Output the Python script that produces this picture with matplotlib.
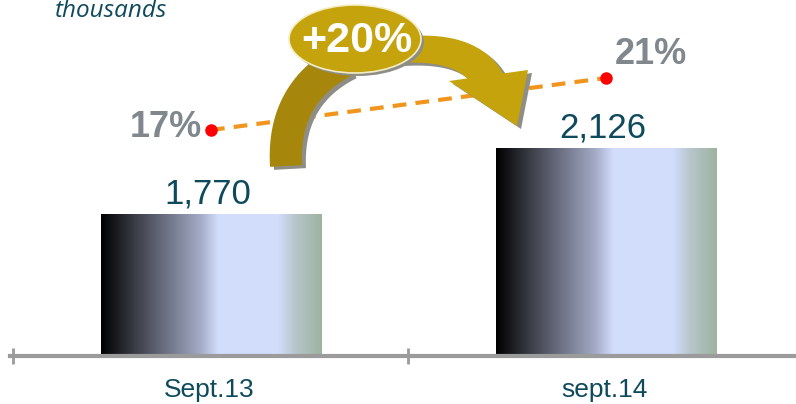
import numpy as np
import matplotlib
matplotlib.use('Agg')
import matplotlib.pyplot as plt
from matplotlib.colors import LinearSegmentedColormap
from matplotlib.patches import Ellipse, Polygon

# ---- data ----
categories = ['Sept.13', 'sept.14']
values = [1770, 2126]
value_labels = ['1,770', '2,126']
shares = [17, 21]
share_labels = ['17%', '21%']
growth_label = '+20%'
unit_label = 'thousands'

# ---- styles ----
TEAL = '#0F4A5C'
GRAY_TXT = '#80878D'
AXIS_GRAY = '#9B9B9B'
ORANGE = '#F0961E'
GOLD = '#C5A30C'
GOLD_DARK = '#A7870B'
SHADOW = '#8E8E86'
FONT = 'Liberation Sans'

W, H = 796, 404
fig = plt.figure(figsize=(W / 100, H / 100), dpi=100)
base_px = 356
ax = fig.add_axes([0, (H - base_px) / H, 1, base_px / H])
x = np.arange(len(categories))
YMIN, YMAX = 1009, 2929

bars = ax.bar(x, values, width=0.557, color='none', edgecolor='none', zorder=2)

stops = [(0.0, '#000000'), (0.15, '#3a3c45'), (0.30, '#6f7386'),
         (0.45, '#a3abc6'), (0.53, '#d2dcfb'), (0.80, '#d3defc'),
         (0.88, '#b8c5cc'), (1.0, '#9eb39f')]
cmap = LinearSegmentedColormap.from_list('bargrad', stops)
grad = np.linspace(0, 1, 256)[None, :]
for p in bars:
    bb = p.get_bbox()
    ax.imshow(grad, extent=[bb.x0, bb.x1, max(bb.y0, YMIN), bb.y1], aspect='auto',
              cmap=cmap, origin='lower', zorder=2, interpolation='bilinear')

ax.set_xlim(-0.534, 1.481)
ax.set_ylim(YMIN, YMAX)

for s in ['top', 'right', 'left']:
    ax.spines[s].set_visible(False)
ax.spines['bottom'].set_color(AXIS_GRAY)
ax.spines['bottom'].set_linewidth(3)
ax.spines['bottom'].set_bounds(-0.509, 1.481)
ax.spines['bottom'].set_zorder(3)
ax.set_yticks([])
ax.set_xticks([-0.5, 0.5])
ax.set_xticklabels(['', ''])
ax.tick_params(axis='x', which='major', direction='inout', length=11, width=2,
               color=AXIS_GRAY)
ax.patch.set_visible(False)

for xi, cat in zip(x, categories):
    ax.annotate(cat, xy=(xi, 0), xycoords=('data', 'axes fraction'),
                xytext=(-1, -29.5), textcoords='offset points', ha='center',
                va='baseline', fontsize=19, color=TEAL, family=FONT,
                annotation_clip=False)

for p, lab in zip(bars, value_labels):
    ax.annotate(lab, xy=(p.get_x() + p.get_width() / 2, p.get_height()),
                xytext=(-2, 8.5), textcoords='offset points', ha='center',
                va='baseline', fontsize=25, color=TEAL, family=FONT, zorder=4)

# ---- secondary: share line ----
ax2 = ax.twinx()
ax2.set_ylim(-0.385, 27)
ax2.axis('off')
ax2.plot(x, shares, color=ORANGE, lw=3, dashes=(3.3, 2.2), zorder=3)
ax2.plot(x, shares, 'o', color='#FF0000', ms=8, zorder=4)
ax2.annotate(share_labels[0], xy=(x[0], shares[0]), xytext=(-6.5, 1.5),
             textcoords='offset points', ha='right', va='center', fontsize=26,
             fontweight='bold', color=GRAY_TXT, family=FONT)
ax2.annotate(share_labels[1], xy=(x[1], shares[1]), xytext=(6, 17),
             textcoords='offset points', ha='left', va='center', fontsize=26,
             fontweight='bold', color=GRAY_TXT, family=FONT)

# ---- overlay: growth arrow ----
ov = fig.add_axes([0, 0, 1, 1], zorder=5)
ov.set_xlim(0, W)
ov.set_ylim(H, 0)
ov.axis('off')


def band(p0, p1, p2, w0, w1, n=50):
    t = np.linspace(0, 1, n)[:, None]
    p0, p1, p2 = (np.asarray(v, float) for v in (p0, p1, p2))
    pts = (1 - t) ** 2 * p0 + 2 * (1 - t) * t * p1 + t ** 2 * p2
    d = 2 * (1 - t) * (p1 - p0) + 2 * t * (p2 - p1)
    d = d / np.linalg.norm(d, axis=1, keepdims=True)
    nrm = np.column_stack([-d[:, 1], d[:, 0]])
    w = (w0 + (w1 - w0) * t) / 2
    return np.vstack([pts + nrm * w, (pts - nrm * w)[::-1]])


left_arm = band((286, 166), (282, 92), (345, 60), 32, 34)
right_arm = band((400, 50), (470, 44), (489, 82), 26, 33)
head = np.array([(449, 81), (528, 70), (517, 126)])
sh = np.array([4, 3])
for poly in (left_arm, right_arm, head):
    ov.add_patch(Polygon(poly + sh, closed=True, fc=SHADOW, ec='none', zorder=1))
ov.add_patch(Polygon(left_arm, closed=True, fc=GOLD_DARK, ec='none', zorder=2))
ov.add_patch(Polygon(right_arm, closed=True, fc=GOLD, ec='none', zorder=2))
ov.add_patch(Polygon(head, closed=True, fc=GOLD, ec='none', zorder=2))
ov.add_patch(Ellipse((358, 42), 132, 68, fc=SHADOW, ec='none', zorder=3))
ov.add_patch(Ellipse((355, 39), 132, 68, fc=GOLD, ec='#F3EDC4', lw=1.2, zorder=4))
ov.text(357, 41, growth_label, ha='center', va='center', fontsize=31,
        fontweight='bold', color='white', family=FONT, zorder=5)

fig.text(55 / W, 1 - 17 / H, unit_label, ha='left', va='baseline', fontsize=17.5,
         style='italic', color=TEAL, family='Open Sans')

fig.savefig('out.png', dpi=100)
